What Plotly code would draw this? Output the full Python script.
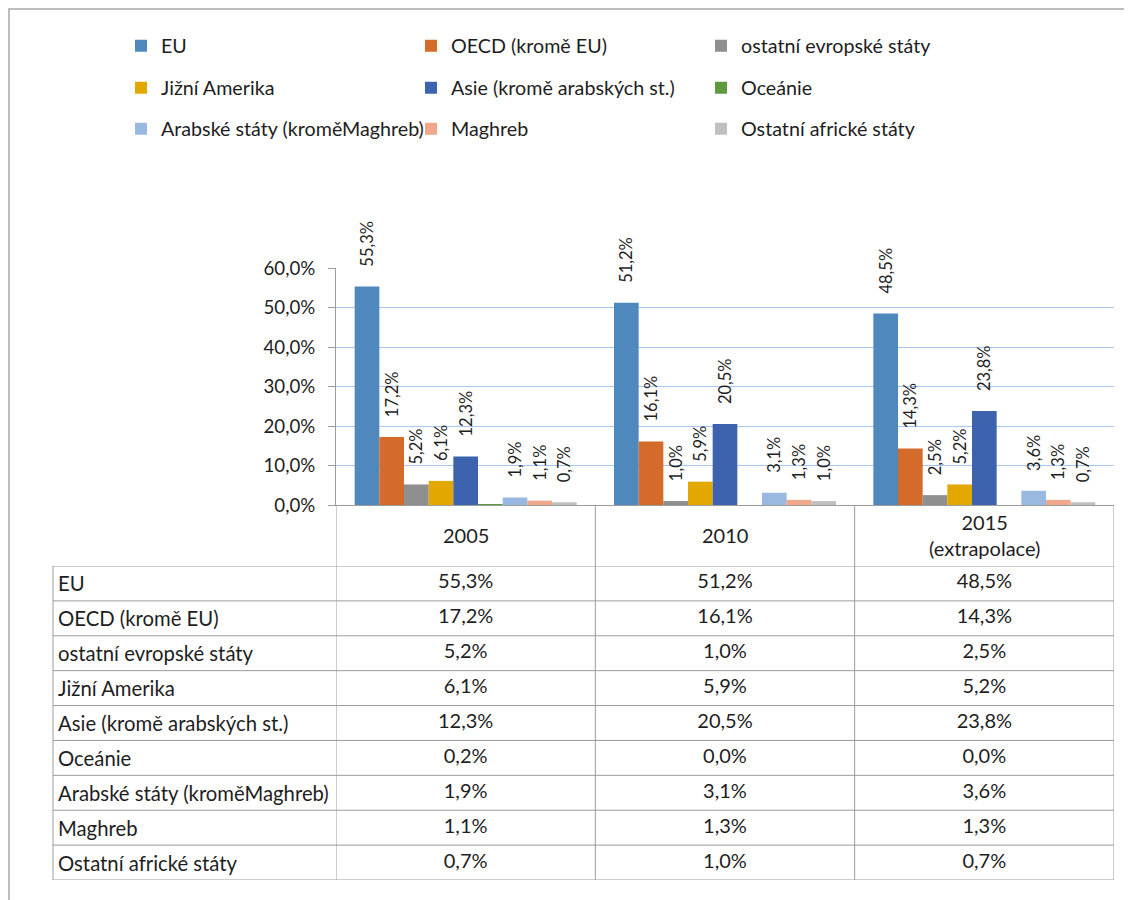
import plotly.graph_objects as go

# data, shares of exports by region
years = ["2005", "2010", "2015"]
header_labels = ["2005", "2010", "2015<br>(extrapolace)"]

regions = [
    "EU", "OECD (kromě EU)", "ostatní evropské státy",
    "Jižní Amerika", "Asie (kromě arabských st.)", "Oceánie",
    "Arabské státy (kroměMaghreb)", "Maghreb", "Ostatní africké státy",
]
eu = [55.3, 51.2, 48.5]
oecd = [17.2, 16.1, 14.3]
ostatni_evropske = [5.2, 1.0, 2.5]
jizni_amerika = [6.1, 5.9, 5.2]
asie = [12.3, 20.5, 23.8]
oceanie = [0.2, 0.0, 0.0]
arabske = [1.9, 3.1, 3.6]
maghreb = [1.1, 1.3, 1.3]
ostatni_africke = [0.7, 1.0, 0.7]

series = [eu, oecd, ostatni_evropske, jizni_amerika, asie, oceanie,
          arabske, maghreb, ostatni_africke]
colors = ["#4f88bd", "#d46b2a", "#8f8f8f", "#e3a800", "#3d63ae", "#5f9a3c",
          "#9ab9e0", "#f1a78a", "#c0c0c0"]

W, H = 1132, 900
OFF = 8  # page body margin, the figure div starts at (8, 8)
FONT = "Lato"
TXT = "#1e1e1e"
GRID = "#a9c7ee"
LINE = "#9c9c9c"


def px_x(p):
    return (p - OFF) / W


def px_y(p):
    return 1 - (p - OFF) / H


# plot / table geometry in screen pixels
X0, X1 = 336, 1114
PLOT_TOP, PLOT_BOT = 268, 505
TAB_TOP, TAB_BOT = 566, 880
TAB_LEFT = 53

fig = go.Figure()

legends = ["legend", "legend2", "legend3"]
for i, (name, vals, c) in enumerate(zip(regions, series, colors)):
    show_text = name != "Oceánie"
    fig.add_trace(go.Bar(
        x=years, y=vals, name=name,
        marker=dict(color=c, line=dict(width=0)),
        texttemplate="\u00a0\u00a0\u00a0\u00a0%{y:.1f}%" if show_text else None,
        textposition="outside" if show_text else "none",
        textangle=-90, cliponaxis=False, constraintext="none",
        textfont=dict(size=16.5, color=TXT, family=FONT),
        legend=legends[i // 3],
    ))
    # table row text
    fig.add_trace(go.Scatter(
        x=years, y=[name] * len(years), mode="text",
        text=[f"{v:.1f}%".replace(".", ",") for v in vals],
        textfont=dict(size=20, color=TXT, family=FONT),
        xaxis="x2", yaxis="y2", showlegend=False, hoverinfo="skip",
    ))

shapes = [
    # outer chart frame
    dict(type="rect", xref="paper", yref="paper", x0=px_x(9), x1=1.05,
         y0=-0.05, y1=px_y(9), line=dict(color="#a8a8a8", width=1.5)),
]
# vertical table lines at category boundaries
for b in [-0.5, 0.5, 1.5, 2.5]:
    shapes.append(dict(type="line", xref="x", yref="paper", x0=b, x1=b,
                       y0=px_y(TAB_BOT), y1=px_y(PLOT_BOT),
                       line=dict(color=LINE, width=1)))
shapes.append(dict(type="line", xref="paper", yref="y2", x0=px_x(TAB_LEFT),
                   x1=px_x(TAB_LEFT), y0=-0.5, y1=len(regions) - 0.5,
                   line=dict(color=LINE, width=1)))
# horizontal table lines
for k in range(len(regions) + 1):
    shapes.append(dict(type="line", xref="paper", yref="y2",
                       x0=px_x(TAB_LEFT), x1=px_x(X1), y0=k - 0.5, y1=k - 0.5,
                       line=dict(color=LINE, width=1)))

annotations = []
# header row; numeric-looking category names need the index position
for idx, lab in enumerate(header_labels):
    annotations.append(dict(x=idx, xref="x", y=px_y(535), yref="paper",
                            text=lab, showarrow=False,
                            font=dict(size=20, color=TXT, family=FONT)))
for name in regions:
    annotations.append(dict(x=px_x(56), xref="paper", y=name, yref="y2",
                            xanchor="left", text=name, showarrow=False,
                            font=dict(size=20.3, color=TXT, family=FONT)))

legend_style = dict(orientation="h", xanchor="left", yanchor="middle",
                    x=px_x(121), entrywidth=245, entrywidthmode="pixels",
                    font=dict(size=19.7, color=TXT, family=FONT),
                    bgcolor="rgba(0,0,0,0)", traceorder="normal")

fig.update_layout(
    width=W, height=H,
    margin=dict(l=0, r=0, t=0, b=0, autoexpand=False),
    paper_bgcolor="white", plot_bgcolor="white",
    font=dict(family=FONT, size=19, color=TXT),
    separators=", ",
    barmode="group", bargap=0.144, bargroupgap=0,
    showlegend=True,
    legend=dict(**legend_style, y=px_y(46)),
    legend2=dict(**legend_style, y=px_y(88)),
    legend3=dict(**legend_style, y=px_y(129)),
    xaxis=dict(domain=[px_x(X0), px_x(X1)], type="category",
               categoryarray=years, range=[-0.5, 2.5],
               showticklabels=False, ticks="", showgrid=False,
               showline=True, linecolor=LINE, linewidth=1, fixedrange=True),
    yaxis=dict(domain=[px_y(PLOT_BOT), px_y(PLOT_TOP)], range=[0, 60],
               dtick=10, tickformat=".1f", ticksuffix="%",
               showgrid=True, gridcolor=GRID, gridwidth=1, zeroline=False,
               showline=True, linecolor=LINE, linewidth=1,
               ticks="outside", ticklen=7, tickcolor=LINE,
               ticklabelstandoff=9,
               tickfont=dict(size=18.7, color=TXT, family=FONT), fixedrange=True),
    xaxis2=dict(domain=[px_x(X0), px_x(X1)], type="category",
                categoryarray=years, range=[-0.5, 2.5], anchor="y2",
                visible=False, fixedrange=True),
    yaxis2=dict(domain=[px_y(TAB_BOT), px_y(TAB_TOP)], type="category",
                categoryarray=regions, range=[len(regions) - 0.5, -0.5],
                anchor="x2", visible=False, fixedrange=True),
    shapes=shapes,
    annotations=annotations,
)

fig.write_html("out.html")
